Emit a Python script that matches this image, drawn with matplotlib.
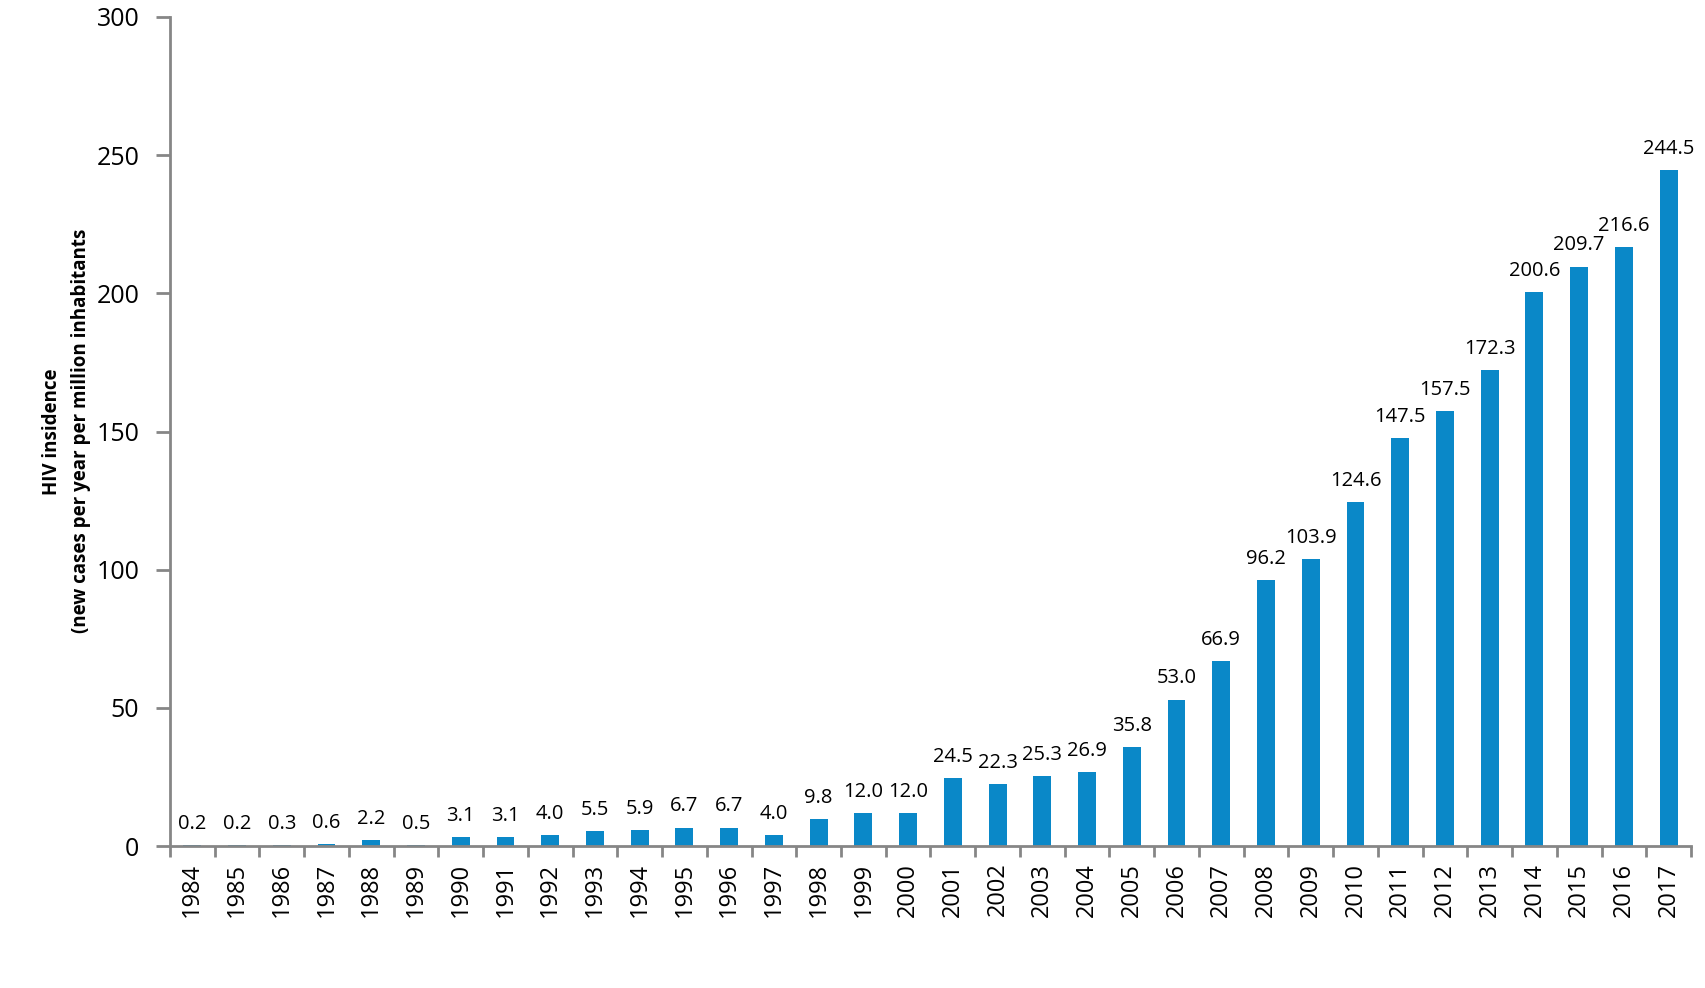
import matplotlib
matplotlib.use("Agg")
import matplotlib.pyplot as plt
import numpy as np

years = [str(y) for y in range(1984, 2018)]
values = [0.2, 0.2, 0.3, 0.6, 2.2, 0.5, 3.1, 3.1, 4.0, 5.5, 5.9, 6.7, 6.7, 4.0,
          9.8, 12.0, 12.0, 24.5, 22.3, 25.3, 26.9, 35.8, 53.0, 66.9, 96.2, 103.9,
          124.6, 147.5, 157.5, 172.3, 200.6, 209.7, 216.6, 244.5]
y_ticks = [0, 50, 100, 150, 200, 250, 300]
y_label = "HIV insidence\n(new cases per year per million inhabitants"

plt.rcParams['font.family'] = ['Open Sans', 'DejaVu Sans']

fig = plt.figure(figsize=(17.06, 9.88), dpi=100)
ax = fig.add_axes([0.0996, 0.1437, 0.8916, 0.8391])

x = np.arange(len(years))
bar_color = '#0A88C8'
ax.bar(x, values, width=0.4, color=bar_color, zorder=2)

for xi, v in zip(x, values):
    ax.annotate(f"{v:.1f}", (xi, v), xytext=(0, 8), textcoords='offset points',
                ha='center', va='bottom', fontsize=14.5, color='black')

ax.set_xlim(-0.5, len(years) - 0.5)
ax.set_ylim(0, 300)
ax.set_yticks(y_ticks)
ax.set_yticklabels([str(t) for t in y_ticks], fontsize=18)
ax.set_xticks(x)
ax.set_xticklabels(years, rotation=90, fontsize=17)
ax.tick_params(axis='x', length=0, pad=12)
ax.set_xticks(np.arange(-0.5, len(years), 1), minor=True)
ax.tick_params(axis='x', which='minor', length=8, width=2, color='#868686')
ax.tick_params(axis='y', length=10, width=2, color='#868686', pad=12)

for s in ['top', 'right']:
    ax.spines[s].set_visible(False)
for s in ['left', 'bottom']:
    ax.spines[s].set_color('#868686')
    ax.spines[s].set_linewidth(2)

fig.text(0.039, 0.5635, y_label, rotation=90, ha='center', va='center',
         fontsize=13.5, fontweight='bold', linespacing=1.6)

fig.savefig("out.png", dpi=100)
